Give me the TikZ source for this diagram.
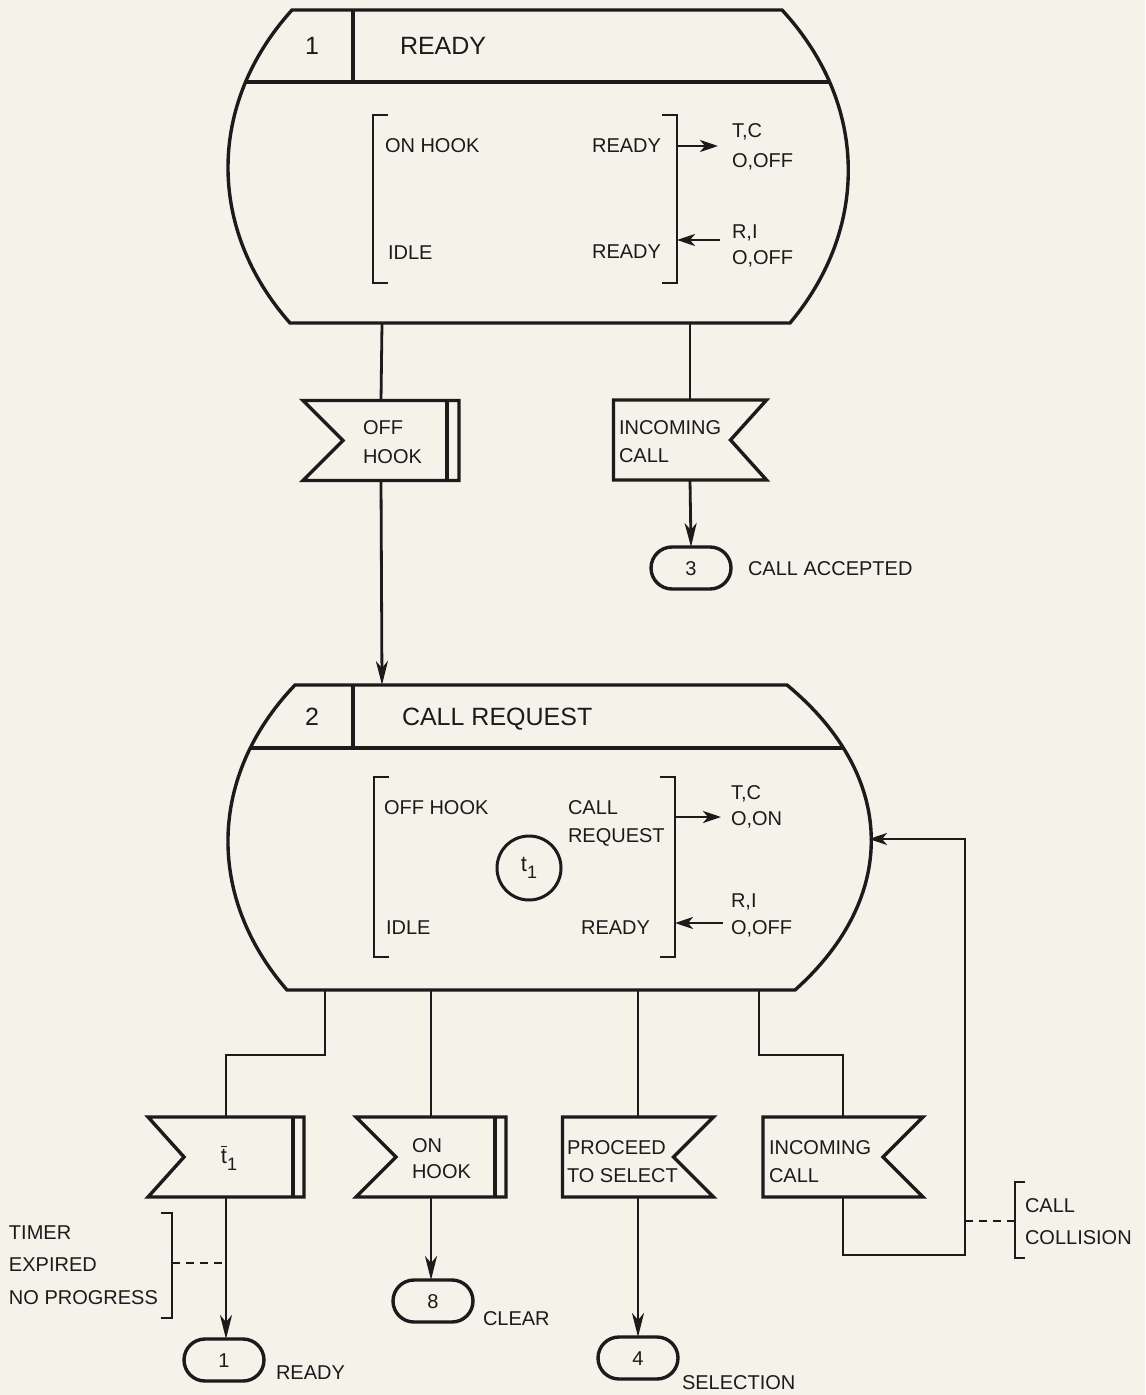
\documentclass[tikz,border=0pt]{standalone}
\usepackage{fontspec}
\setmainfont{Liberation Sans}
\usetikzlibrary{arrows.meta,shapes.misc}
\definecolor{bg}{RGB}{245,243,233}
\definecolor{ink}{RGB}{28,26,26}
\begin{document}
\begin{tikzpicture}[x=0.5pt,y=-0.5pt,
  every node/.style={inner sep=0pt, outer sep=0pt},
  ln/.style={line width=1.4pt, draw=ink},
  shp/.style={line width=1.7pt, draw=ink, line join=miter},
  txt/.style={font=\fontsize{10}{12}\selectfont, text=ink, text height=0.72em, text depth=0pt},
  hdr/.style={font=\fontsize{12.5}{15}\selectfont, text=ink, text height=0.72em, text depth=0pt},
  lt/.style={txt, anchor=west},
  rt/.style={txt, anchor=east},
  arr/.style={ln, -{Stealth[length=12pt,width=6pt,inset=3.5pt]}},
  sarr/.style={ln, -{Stealth[length=9pt,width=6pt,inset=2.5pt]}},
  symbox/.style={draw=none, rectangle, minimum height=40pt},
  term/.style={rounded rectangle, draw=ink, line width=1.7pt, minimum width=40pt, minimum height=21pt, txt},
  dsh/.style={line width=1.3pt, draw=ink, dash pattern=on 4pt off 3pt}
]
\fill[bg] (0,0) rectangle (1145,1395);

% ---------- State 1 ----------
\path[save path=\stone] (292,10) -- (782,10) .. controls (869,104) and (869,229) .. (790,323)
  -- (290,323) .. controls (207,229) and (207,104) .. (292,10) -- cycle;
\draw[shp, use path=\stone];
\begin{scope}
  \clip[use path=\stone];
  \draw[shp] (0,82) -- (1145,82);
\end{scope}
\draw[shp] (353,10) -- (353,82);
\node[hdr] (s1num) at (312,47) {1};
\node[hdr, anchor=west] (s1name) at (400,47) {READY};
\draw[ln] (388,115) -- (373,115) -- (373,283) -- (388,283);
\draw[ln] (662,115) -- (677,115) -- (677,283) -- (662,283);
\node[lt] (s1a) at (385,145) {ON HOOK};
\node[lt] (s1b) at (388,252) {IDLE};
\node[rt] (s1c) at (661,145) {READY};
\node[rt] (s1d) at (661,251) {READY};
\coordinate (s1o) at (677,146);
\coordinate (s1oe) at (718,146);
\coordinate (s1i) at (677,240);
\coordinate (s1is) at (720,240);
\draw[sarr] (s1o) -- (s1oe);
\draw[sarr] (s1is) -- (s1i);
\node[lt] (s1e) at (732,130) {T,C};
\node[lt] (s1f) at (732,160) {O,OFF};
\node[lt] (s1g) at (732,231) {R,I};
\node[lt] (s1h) at (732,257) {O,OFF};
\coordinate (s1x1) at (382,323);
\coordinate (s1x2) at (690,323);

% ---------- signals below state 1 ----------
\node[symbox, minimum width=78pt] (offhook) at (381,440.5) {};
\draw[shp] (offhook.north west) -- (offhook.north east) -- (offhook.south east) -- (offhook.south west)
  -- ([xshift=20pt]offhook.west) -- cycle;
\draw[shp] ([xshift=-6pt]offhook.north east) -- ([xshift=-6pt]offhook.south east);
\node[lt] (offhookA) at (363,427) {OFF};
\node[lt] (offhookB) at (363,456) {HOOK};

\node[symbox, minimum width=76.5pt] (inca) at (690,440) {};
\draw[shp] (inca.north west) -- (inca.north east) -- ([xshift=-18pt]inca.east) -- (inca.south east)
  -- (inca.south west) -- cycle;
\node[lt] (incaA) at (619,427) {INCOMING};
\node[lt] (incaB) at (619,455) {CALL};

\node[term] (o3) at (691,568) {3};
\node[lt] (o3t) at (748,568) {CALL ACCEPTED};

\draw[ln] (s1x1) -- (offhook.north);
\draw[ln] (s1x2) -- (inca.north);
\draw[arr] (inca.south) -- (o3.north);

% ---------- State 2 ----------
\path[save path=\sttwo] (295,685) -- (787,685) .. controls (898,777) and (898,898) .. (795,990)
  -- (287,990) .. controls (207,898) and (207,777) .. (295,685) -- cycle;
\draw[shp, use path=\sttwo];
\begin{scope}
  \clip[use path=\sttwo];
  \draw[shp] (0,748) -- (1145,748);
\end{scope}
\draw[shp] (353,685) -- (353,748);
\coordinate (s2top) at (382,685);
\draw[arr] (offhook.south) -- (s2top);
\node[hdr] (s2num) at (312,718) {2};
\node[hdr, anchor=west] (s2name) at (402,718) {CALL REQUEST};
\draw[ln] (389,777) -- (374,777) -- (374,957) -- (389,957);
\draw[ln] (660,777) -- (675,777) -- (675,957) -- (660,957);
\node[lt] (s2a) at (384,807) {OFF HOOK};
\node[lt] (s2b) at (386,927) {IDLE};
\node[lt] (s2c) at (568,807) {CALL};
\node[lt] (s2d) at (568,835) {REQUEST};
\node[rt] (s2e) at (650,927) {READY};
\node[circle, draw=ink, line width=1.5pt, minimum size=32pt, font=\fontsize{11}{13}\selectfont, text=ink] (tmr) at (529,868)
  {t\raisebox{-0.55ex}{\fontsize{9}{10}\selectfont 1}};
\coordinate (s2o) at (675,817);
\coordinate (s2oe) at (721,817);
\coordinate (s2i) at (675,923);
\coordinate (s2is) at (723,923);
\draw[sarr] (s2o) -- (s2oe);
\draw[sarr] (s2is) -- (s2i);
\node[lt] (s2f) at (731,792) {T,C};
\node[lt] (s2g) at (731,818) {O,ON};
\node[lt] (s2h) at (731,900) {R,I};
\node[lt] (s2k) at (731,927) {O,OFF};
\coordinate (s2x1) at (325,990);
\coordinate (s2x2) at (431,990);
\coordinate (s2x3) at (638,990);
\coordinate (s2x4) at (759,990);
\coordinate (s2in) at (869,839);

% ---------- signals below state 2 ----------
\node[symbox, minimum width=78pt] (tout) at (226,1157) {};
\draw[shp] (tout.north west) -- (tout.north east) -- (tout.south east) -- (tout.south west)
  -- ([xshift=18pt]tout.west) -- cycle;
\draw[shp] ([xshift=-5.5pt]tout.north east) -- ([xshift=-5.5pt]tout.south east);
\node[font=\fontsize{11}{13}\selectfont, text=ink] (toutA) at (229,1158) {$\overline{\mbox{t}}$\raisebox{-0.6ex}{\fontsize{9}{10}\selectfont 1}};

\node[symbox, minimum width=75pt] (onhook) at (431,1157) {};
\draw[shp] (onhook.north west) -- (onhook.north east) -- (onhook.south east) -- (onhook.south west)
  -- ([xshift=20pt]onhook.west) -- cycle;
\draw[shp] ([xshift=-5.5pt]onhook.north east) -- ([xshift=-5.5pt]onhook.south east);
\node[lt] (onhookA) at (412,1145) {ON};
\node[lt] (onhookB) at (412,1171) {HOOK};

\node[symbox, minimum width=75.5pt] (proc) at (638,1157) {};
\draw[shp] (proc.north west) -- (proc.north east) -- ([xshift=-20pt]proc.east) -- (proc.south east)
  -- (proc.south west) -- cycle;
\node[lt] (procA) at (567,1147) {PROCEED};
\node[lt] (procB) at (567,1175) {TO SELECT};

\node[symbox, minimum width=80pt] (incb) at (843,1157) {};
\draw[shp] (incb.north west) -- (incb.north east) -- ([xshift=-20pt]incb.east) -- (incb.south east)
  -- (incb.south west) -- cycle;
\node[lt] (incbA) at (769,1147) {INCOMING};
\node[lt] (incbB) at (769,1175) {CALL};

\node[term] (o1) at (224,1360) {1};
\node[lt] (o1t) at (276,1372) {READY};
\node[term] (o8) at (433,1301) {8};
\node[lt] (o8t) at (483,1318) {CLEAR};
\node[term] (o4) at (638,1358) {4};
\node[lt] (o4t) at (682,1382) {SELECTION};

% connectors from state 2
\draw[ln] (s2x1) -- (325,1055) -| (tout.north);
\draw[ln] (s2x2) -- (onhook.north);
\draw[ln] (s2x3) -- (proc.north);
\draw[ln] (s2x4) -- (759,1055) -| (incb.north);
\draw[arr] (tout.south) -- (tout.south |- o1.north);
\draw[arr] (onhook.south) -- (onhook.south |- o8.north);
\draw[arr] (proc.south) -- (o4.north);
\coordinate (fbc) at (965,1255);
\draw[sarr] (incb.south) |- (fbc) -- (fbc |- s2in) -- (s2in);

% annotations
\node[lt] (tmA) at (9,1232) {TIMER};
\node[lt] (tmB) at (9,1264) {EXPIRED};
\node[lt] (tmC) at (9,1297) {NO PROGRESS};
\draw[ln] (161,1213) -- (172,1213) -- (172,1318) -- (161,1318);
\coordinate (tbr) at (172,1263);
\draw[dsh] (tbr) -- (tbr -| tout.south);

\draw[ln] (1025,1182) -- (1015,1182) -- (1015,1258) -- (1025,1258);
\coordinate (cbr) at (1015,1221);
\draw[dsh] (fbc |- cbr) -- (cbr);
\node[lt] (ccA) at (1025,1205) {CALL};
\node[lt] (ccB) at (1025,1237) {COLLISION};
\end{tikzpicture}
\end{document}
